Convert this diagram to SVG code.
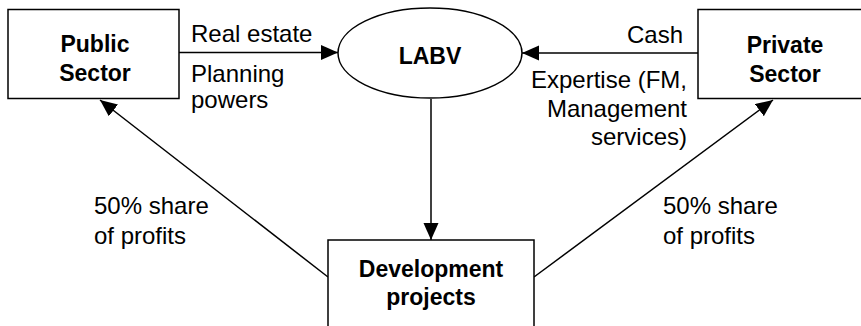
<svg xmlns="http://www.w3.org/2000/svg" width="861" height="326" viewBox="0 0 861 326">
  <style>
    .box { fill: #ffffff; stroke: #000000; stroke-width: 1.5; }
    .edge { fill: none; stroke: #000000; stroke-width: 1.5; marker-end: url(#arrow); }
    .t { font-family: "Liberation Sans", Arial, Helvetica, sans-serif; font-size: 24px; fill: #000000; }
    .b { font-family: "Liberation Sans", Arial, Helvetica, sans-serif; font-size: 23px; font-weight: bold; fill: #000000; text-anchor: middle; }
    .end { text-anchor: end; }
  </style>
  <defs>
    <marker id="arrow" markerUnits="userSpaceOnUse" markerWidth="18" markerHeight="16" refX="17" refY="7.5" orient="auto">
      <path d="M0,0 L17,7.5 L0,15 z" fill="#000000"/>
    </marker>
  </defs>
  <rect width="861" height="326" fill="#ffffff"/>

  <g id="connectors">
    <line class="edge" x1="179" y1="52.5" x2="338" y2="52.5"/>
    <line class="edge" x1="698" y1="53" x2="522" y2="53"/>
    <line class="edge" x1="431" y1="99" x2="431" y2="240"/>
    <line class="edge" x1="328" y1="277" x2="100" y2="100"/>
    <line class="edge" x1="534" y1="277" x2="773" y2="100"/>
  </g>

  <g id="public-sector">
    <rect class="box" x="8" y="9.5" width="171" height="89"/>
    <text class="b" x="95" y="52">Public</text>
    <text class="b" x="95" y="81">Sector</text>
  </g>

  <g id="labv">
    <ellipse class="box" cx="430" cy="53" rx="92" ry="45"/>
    <text class="b" x="430" y="64">LABV</text>
  </g>

  <g id="private-sector">
    <rect class="box" x="698" y="9.5" width="174" height="89"/>
    <text class="b" x="785" y="53">Private</text>
    <text class="b" x="785" y="81.5">Sector</text>
  </g>

  <g id="development-projects">
    <rect class="box" x="328" y="240" width="206" height="100"/>
    <text class="b" x="431" y="277">Development</text>
    <text class="b" x="431" y="305">projects</text>
  </g>

  <g id="labels">
    <text class="t" x="191" y="41.5">Real estate</text>
    <text class="t" x="191" y="82">Planning</text>
    <text class="t" x="191" y="108">powers</text>
    <text class="t end" x="683" y="43">Cash</text>
    <text class="t end" x="687" y="88">Expertise (FM,</text>
    <text class="t end" x="687" y="117">Management</text>
    <text class="t end" x="687" y="145">services)</text>
    <text class="t" x="94" y="214">50% share</text>
    <text class="t" x="94" y="244">of profits</text>
    <text class="t" x="663" y="214">50% share</text>
    <text class="t" x="663" y="244">of profits</text>
  </g>
</svg>
